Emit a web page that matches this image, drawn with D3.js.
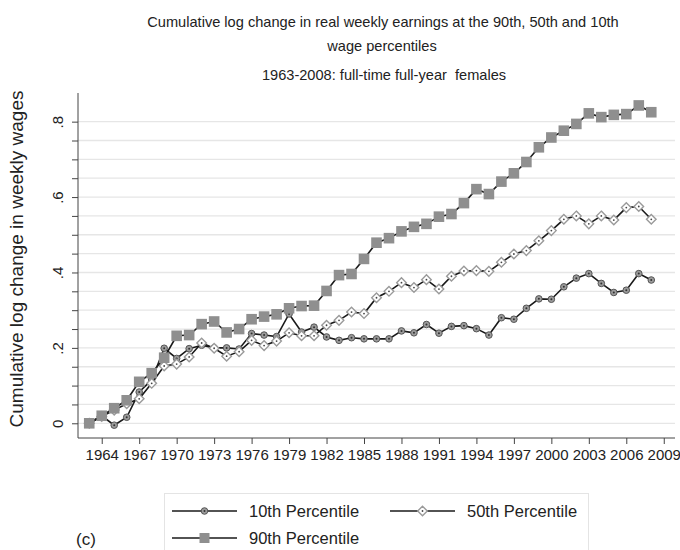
<!DOCTYPE html>
<html>
<head>
<meta charset="utf-8">
<script src="https://cdnjs.cloudflare.com/ajax/libs/d3/7.8.5/d3.min.js"></script>
<style>
body { margin: 0; background: #fff; }
text { font-family: "Liberation Sans", Arial, Helvetica, sans-serif; fill: #222; }
.grid line { stroke: #e6e6e6; stroke-width: 1.3; }
.axis path, .axis line { stroke: #444; stroke-width: 1; }
</style>
</head>
<body>
<div id="viz"></div>
<script>
var years = [1963, 1964, 1965, 1966, 1967, 1968, 1969, 1970, 1971, 1972,
             1973, 1974, 1975, 1976, 1977, 1978, 1979, 1980, 1981, 1982,
             1983, 1984, 1985, 1986, 1987, 1988, 1989, 1990, 1991, 1992,
             1993, 1994, 1995, 1996, 1997, 1998, 1999, 2000, 2001, 2002,
             2003, 2004, 2005, 2006, 2007, 2008];

var p10 = [0.0, 0.02, -0.005, 0.016, 0.083, 0.115, 0.199, 0.172, 0.198, 0.207,
           0.2, 0.2, 0.197, 0.238, 0.234, 0.23, 0.29, 0.242, 0.255, 0.229,
           0.22, 0.227, 0.224, 0.224, 0.224, 0.245, 0.24, 0.262, 0.239, 0.257,
           0.259, 0.251, 0.234, 0.28, 0.276, 0.305, 0.33, 0.329, 0.362, 0.385,
           0.397, 0.371, 0.347, 0.353, 0.397, 0.38];

var p50 = [0.0, 0.018, 0.035, 0.052, 0.065, 0.106, 0.152, 0.157, 0.176, 0.213,
           0.199, 0.178, 0.19, 0.22, 0.206, 0.218, 0.24, 0.232, 0.232, 0.26,
           0.273, 0.295, 0.291, 0.333, 0.35, 0.373, 0.36, 0.381, 0.356, 0.39,
           0.404, 0.405, 0.403, 0.427, 0.449, 0.458, 0.484, 0.511, 0.541, 0.55,
           0.529, 0.55, 0.539, 0.572, 0.575, 0.541];

var p90 = [0.0, 0.02, 0.04, 0.061, 0.11, 0.133, 0.174, 0.232, 0.234, 0.263,
           0.27, 0.241, 0.25, 0.276, 0.283, 0.289, 0.305, 0.311, 0.312, 0.351,
           0.393, 0.396, 0.436, 0.479, 0.491, 0.509, 0.521, 0.529, 0.548, 0.555,
           0.584, 0.621, 0.608, 0.641, 0.663, 0.693, 0.732, 0.758, 0.776, 0.794,
           0.822, 0.812, 0.818, 0.82, 0.843, 0.825];

var xTicks = [1964, 1967, 1970, 1973, 1976, 1979, 1982, 1985, 1988, 1991, 1994, 1997, 2000, 2003, 2006, 2009];
var yLabels = [0, 0.2, 0.4, 0.6, 0.8];
var yGrid = [0, 0.05, 0.1, 0.15, 0.2, 0.25, 0.3, 0.35, 0.4, 0.45, 0.5, 0.55, 0.6, 0.65, 0.7, 0.75, 0.8];

var series = [
  {name: "10th Percentile", vals: p10, marker: "circle"},
  {name: "50th Percentile", vals: p50, marker: "diamond"},
  {name: "90th Percentile", vals: p90, marker: "square"}
];

var width = 680, height = 550;
var plotL = 78, plotR = 675, plotT = 93, plotB = 438;

var svg = d3.select('#viz').append("svg")
    .attr("width", width)
    .attr("height", height);

var x = d3.scaleLinear().domain([1962.1, 2009.9]).range([plotL, plotR]);
var y = d3.scaleLinear().domain([-0.039, 0.876]).range([plotB, plotT]);

// gridlines
svg.append("g")
    .attr("class", "grid")
    .selectAll("line")
    .data(yGrid)
    .enter().append("line")
    .attr("x1", plotL)
    .attr("x2", plotR)
    .attr("y1", function(d) { return y(d); })
    .attr("y2", function(d) { return y(d); });

// y axis, ticks every .05, labels every .2
var yAxis = d3.axisLeft(y).tickValues(yGrid).tickSize(6)
    .tickFormat(function(d) {
        if (yLabels.indexOf(d) < 0) return "";
        return d == 0 ? "0" : d3.format(".1f")(d).replace(/^0/, "");
    });
var gy = svg.append("g")
    .attr("class", "axis")
    .attr("transform", "translate(" + plotL + ",0)")
    .call(yAxis);
gy.select(".domain").attr("d", "M0," + plotT + "V" + plotB);
gy.selectAll(".tick text")
    .attr("x", 0).attr("y", 0)
    .attr("dy", null)
    .attr("transform", "translate(-15,0) rotate(-90)")
    .style("text-anchor", "middle")
    .style("font-size", "15px")
    .style("font-family", "Liberation Sans, Arial, sans-serif");

// x axis
var xAxis = d3.axisBottom(x).tickValues(xTicks).tickSize(6).tickFormat(d3.format("d"));
var gx = svg.append("g")
    .attr("class", "axis")
    .attr("transform", "translate(0," + plotB + ")")
    .call(xAxis);
gx.select(".domain").attr("d", "M" + plotL + ",0H" + plotR);
gx.selectAll(".tick text")
    .attr("y", 11)
    .style("font-size", "15px")
    .style("font-family", "Liberation Sans, Arial, sans-serif");

// lines + markers
var line = d3.line()
    .x(function(d, i) { return x(years[i]); })
    .y(function(d) { return y(d); });

function drawMarker(g, type, cx, cy, big) {
    if (type == "circle") {
        g.append("circle")
            .attr("cx", cx).attr("cy", cy).attr("r", 3.3)
            .attr("fill", "#9b9b9b").attr("stroke", "#555").attr("stroke-width", 1);
        g.append("circle")
            .attr("cx", cx).attr("cy", cy).attr("r", 1)
            .attr("fill", "#333");
    } else if (type == "diamond") {
        var s = 4.8;
        g.append("path")
            .attr("d", "M" + cx + "," + (cy - s) + "L" + (cx + s) + "," + cy + "L" + cx + "," + (cy + s) + "L" + (cx - s) + "," + cy + "Z")
            .attr("fill", "#fff").attr("stroke", "#9a9a9a").attr("stroke-width", 1.4);
        g.append("circle")
            .attr("cx", cx).attr("cy", cy).attr("r", 0.9)
            .attr("fill", "#444");
    } else {
        var h = big ? 5.3 : 5;
        g.append("rect")
            .attr("x", cx - h).attr("y", cy - h)
            .attr("width", 2 * h).attr("height", 2 * h)
            .attr("fill", "#8f8f8f");
    }
}

series.forEach(function(s) {
    var g = svg.append("g").attr("class", "series");
    g.append("path")
        .datum(s.vals)
        .attr("d", line)
        .attr("fill", "none")
        .attr("stroke", "#1a1a1a")
        .attr("stroke-width", 1.6);
    s.vals.forEach(function(v, i) {
        drawMarker(g, s.marker, x(years[i]), y(v), true);
    });
});

// titles
svg.append("text")
    .attr("x", 383).attr("y", 27)
    .attr("text-anchor", "middle")
    .style("font-size", "14.6px")
    .text("Cumulative log change in real weekly earnings at the 90th, 50th and 10th");
svg.append("text")
    .attr("x", 382).attr("y", 51)
    .attr("text-anchor", "middle")
    .style("font-size", "14.6px")
    .text("wage percentiles");
svg.append("text")
    .attr("x", 384).attr("y", 80)
    .attr("text-anchor", "middle")
    .style("font-size", "14.6px")
    .style("white-space", "pre")
    .attr("xml:space", "preserve")
    .text("1963-2008: full-time full-year  females");

svg.append("text")
    .attr("transform", "translate(23,259) rotate(-90)")
    .attr("text-anchor", "middle")
    .style("font-size", "19px")
    .text("Cumulative log change in weekly wages");

// legend
var leg = svg.append("g");
leg.append("rect")
    .attr("x", 164.5).attr("y", 493.5)
    .attr("width", 424).attr("height", 70)
    .attr("fill", "#fff")
    .attr("stroke", "#e4e4e4");

var legPos = [[172, 511], [390, 511], [172, 538]];
series.forEach(function(s, i) {
    var px = legPos[i][0], py = legPos[i][1];
    leg.append("line")
        .attr("x1", px).attr("x2", px + 65)
        .attr("y1", py).attr("y2", py)
        .attr("stroke", "#1a1a1a").attr("stroke-width", 1.6);
    drawMarker(leg, s.marker, px + 32.5, py, false);
    leg.append("text")
        .attr("x", px + 77).attr("y", py + 6)
        .style("font-size", "16.5px")
        .text(s.name);
});

svg.append("text")
    .attr("x", 76).attr("y", 545)
    .style("font-size", "17px")
    .text("(c)");
</script>
</body>
</html>
